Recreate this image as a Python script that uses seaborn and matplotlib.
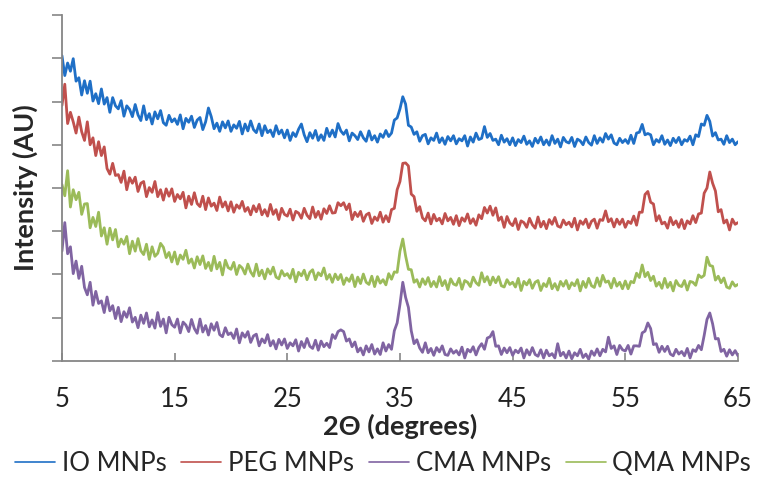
import numpy as np
import pandas as pd
import matplotlib
matplotlib.use("Agg")
import matplotlib.pyplot as plt
import seaborn as sns

# Diffraction angle grid (2-theta, degrees), 0.25 degree step
theta = np.linspace(5, 65, 241)

samples = ["IO MNPs", "PEG MNPs", "CMA MNPs", "QMA MNPs"]
colors = ["#1F6FC6", "#C0504D", "#8064A2", "#9BBB59"]

# Intensities (offset stacked, arbitrary units), rows of 5 degrees each
io_mnps = [
    706, 660, 689, 670, 699, 647, 655, 615, 648, 619, 647, 601, 618, 595, 629, 594, 609, 575, 609, 590,
    583, 602, 566, 590, 582, 565, 593, 569, 556, 590, 558, 572, 548, 576, 560, 579, 551, 545, 568, 553,
    560, 547, 569, 537, 561, 552, 566, 540, 557, 563, 535, 553, 585, 565, 537, 550, 531, 553, 539, 555,
    531, 546, 538, 554, 525, 548, 532, 555, 535, 528, 548, 521, 544, 528, 534, 519, 544, 525, 534, 516,
    534, 510, 528, 519, 536, 548, 523, 507, 528, 515, 533, 510, 523, 510, 538, 519, 534, 518, 549, 532,
    524, 534, 509, 527, 521, 512, 530, 516, 508, 532, 511, 521, 506, 525, 517, 533, 519, 527, 557, 562,
    583, 611, 594, 545, 541, 524, 530, 508, 521, 524, 502, 516, 510, 527, 505, 516, 501, 519, 509, 521,
    502, 514, 509, 521, 497, 518, 506, 527, 512, 515, 542, 517, 526, 510, 513, 500, 522, 506, 514, 500,
    516, 498, 512, 505, 520, 501, 509, 496, 515, 504, 518, 500, 511, 499, 521, 503, 513, 495, 517, 507,
    504, 517, 496, 513, 509, 500, 518, 505, 499, 521, 503, 516, 506, 526, 513, 523, 504, 500, 515, 505,
    512, 503, 522, 503, 527, 529, 547, 523, 526, 523, 500, 512, 506, 521, 501, 511, 498, 515, 505, 517,
    500, 512, 508, 520, 500, 523, 519, 548, 545, 568, 554, 520, 528, 511, 513, 501, 521, 505, 513, 500,
    507,
]
peg_mnps = [
    591, 640, 549, 575, 553, 527, 564, 530, 510, 553, 500, 516, 475, 507, 475, 495, 445, 432, 457, 429,
    431, 413, 439, 396, 424, 411, 425, 392, 411, 415, 380, 401, 390, 415, 380, 396, 372, 398, 381, 398,
    369, 385, 375, 390, 354, 381, 362, 389, 364, 357, 381, 350, 377, 358, 365, 348, 379, 356, 368, 347,
    368, 344, 361, 353, 369, 346, 355, 338, 359, 345, 362, 338, 350, 335, 362, 339, 350, 327, 353, 339,
    335, 351, 326, 346, 342, 330, 353, 337, 329, 356, 332, 346, 328, 352, 341, 359, 342, 343, 366, 359,
    366, 350, 363, 327, 344, 334, 346, 323, 338, 342, 318, 333, 325, 344, 321, 336, 322, 350, 353, 396,
    415, 457, 458, 451, 386, 380, 346, 357, 331, 324, 342, 317, 339, 324, 330, 317, 341, 324, 332, 316,
    336, 313, 331, 323, 340, 318, 329, 314, 338, 329, 355, 342, 358, 337, 354, 325, 333, 309, 334, 319,
    313, 329, 304, 324, 320, 309, 330, 315, 307, 333, 310, 323, 306, 327, 316, 332, 312, 309, 326, 315,
    321, 310, 330, 303, 324, 316, 328, 308, 323, 328, 307, 327, 325, 347, 322, 329, 310, 328, 316, 328,
    309, 323, 318, 335, 314, 344, 344, 385, 392, 367, 363, 324, 336, 317, 321, 307, 332, 315, 324, 309,
    327, 306, 324, 317, 336, 320, 340, 342, 388, 400, 437, 411, 393, 345, 350, 319, 326, 303, 328, 316,
    320,
]
cma_mnps = [
    254, 320, 248, 264, 202, 231, 191, 219, 170, 153, 182, 129, 161, 133, 139, 112, 148, 116, 128, 98,
    124, 91, 114, 101, 123, 90, 101, 77, 106, 87, 111, 79, 95, 76, 112, 80, 97, 65, 101, 84,
    78, 97, 65, 90, 83, 68, 96, 75, 64, 97, 67, 82, 60, 86, 71, 89, 61, 56, 77, 61,
    65, 52, 74, 42, 65, 55, 68, 43, 58, 62, 35, 51, 42, 61, 35, 47, 28, 50, 37, 51,
    29, 42, 35, 49, 23, 45, 31, 52, 34, 29, 48, 25, 46, 33, 41, 31, 61, 52, 68, 72,
    68, 46, 51, 33, 44, 21, 30, 14, 35, 21, 38, 16, 28, 15, 42, 23, 38, 27, 70, 88,
    131, 182, 147, 124, 70, 40, 49, 30, 20, 42, 19, 29, 13, 31, 21, 35, 15, 13, 28, 18,
    24, 14, 32, 7, 27, 21, 33, 14, 31, 40, 27, 53, 56, 68, 34, 35, 15, 30, 19, 31,
    13, 25, 19, 30, 7, 26, 14, 31, 15, 11, 26, 7, 25, 12, 17, 7, 40, 12, 20, 7,
    23, 5, 19, 12, 27, 8, 16, 4, 23, 13, 28, 12, 27, 21, 55, 29, 35, 15, 36, 26,
    23, 36, 16, 35, 35, 34, 65, 69, 88, 75, 38, 40, 20, 34, 22, 34, 16, 12, 27, 16,
    22, 12, 29, 7, 26, 22, 36, 26, 59, 96, 111, 86, 51, 52, 22, 27, 11, 26, 14, 24,
    12,
]
qma_mnps = [
    408, 382, 440, 356, 396, 373, 390, 339, 363, 364, 308, 332, 311, 344, 289, 308, 270, 307, 280, 304,
    264, 282, 270, 288, 248, 277, 254, 283, 255, 246, 270, 235, 264, 242, 249, 272, 263, 239, 251, 229,
    252, 224, 245, 235, 256, 226, 236, 215, 241, 223, 243, 214, 228, 209, 242, 213, 228, 199, 233, 216,
    212, 228, 200, 221, 215, 201, 224, 206, 196, 224, 197, 210, 190, 213, 201, 217, 194, 190, 209, 197,
    202, 191, 212, 183, 205, 197, 210, 188, 205, 211, 188, 204, 197, 215, 189, 200, 182, 201, 188, 200,
    177, 192, 184, 199, 172, 194, 179, 201, 182, 177, 196, 172, 195, 180, 188, 176, 202, 189, 206, 205,
    254, 282, 243, 212, 211, 182, 188, 171, 190, 177, 193, 172, 184, 171, 195, 174, 186, 165, 190, 178,
    175, 191, 166, 186, 182, 172, 194, 181, 175, 204, 183, 195, 176, 194, 181, 195, 174, 171, 188, 177,
    182, 171, 191, 163, 184, 176, 188, 168, 182, 186, 163, 179, 172, 191, 167, 179, 164, 184, 173, 186,
    167, 181, 174, 188, 162, 184, 170, 191, 174, 170, 192, 173, 198, 182, 185, 169, 191, 173, 182, 167,
    185, 167, 184, 181, 203, 193, 222, 195, 205, 186, 196, 173, 182, 168, 191, 170, 182, 162, 186, 175,
    172, 186, 164, 184, 182, 175, 199, 193, 198, 240, 221, 219, 187, 196, 181, 192, 171, 168, 183, 173,
    177,
]

series = dict(zip(samples, [io_mnps, peg_mnps, cma_mnps, qma_mnps]))
df = pd.concat(
    [pd.DataFrame({"theta": theta, "intensity": vals, "sample": name})
     for name, vals in series.items()],
    ignore_index=True,
)

sns.set_style("white")
plt.rcParams["font.family"] = ["Lato", "DejaVu Sans"]

fig = plt.figure(figsize=(7.66, 4.78), dpi=100)
ax = fig.add_axes([0.0809, 0.2448, 0.8825, 0.7238])

sns.lineplot(data=df, x="theta", y="intensity", hue="sample", hue_order=samples,
             palette=colors, estimator=None, linewidth=2.0, ax=ax)

axis_grey = "#868686"
ax.set_xlim(5, 65)
ax.set_ylim(0, 800)
ax.set_xticks(range(5, 66, 10))
ax.set_yticks(range(0, 801, 100))
ax.set_yticklabels([])
ax.tick_params(axis="x", direction="in", length=6, width=1.2, color=axis_grey,
               pad=19, labelsize=18.5, labelcolor="#222222", bottom=True)
ax.tick_params(axis="y", direction="out", length=7.5, width=1.2, color=axis_grey, left=True)
for side in ("top", "right"):
    ax.spines[side].set_visible(False)
for side in ("left", "bottom"):
    ax.spines[side].set_color(axis_grey)
    ax.spines[side].set_linewidth(1.3)

ax.set_xlabel("2Θ (degrees)", fontsize=19.5, fontweight="bold")
ax.set_ylabel("Intensity (AU)", fontsize=19.5, fontweight="bold")
ax.xaxis.set_label_coords(0.5, -0.152)
ax.yaxis.set_label_coords(-0.035, 0.5)

handles, labels = ax.get_legend_handles_labels()
ax.get_legend().remove()
for h in handles:
    h.set_linewidth(1.2)
fig.legend(handles, labels, loc="center", bbox_to_anchor=(0.5, 0.03), ncol=4,
           frameon=False, fontsize=18.5, handlelength=1.55, handletextpad=0.27,
           columnspacing=0.58)

fig.savefig("out.png", dpi=100)
